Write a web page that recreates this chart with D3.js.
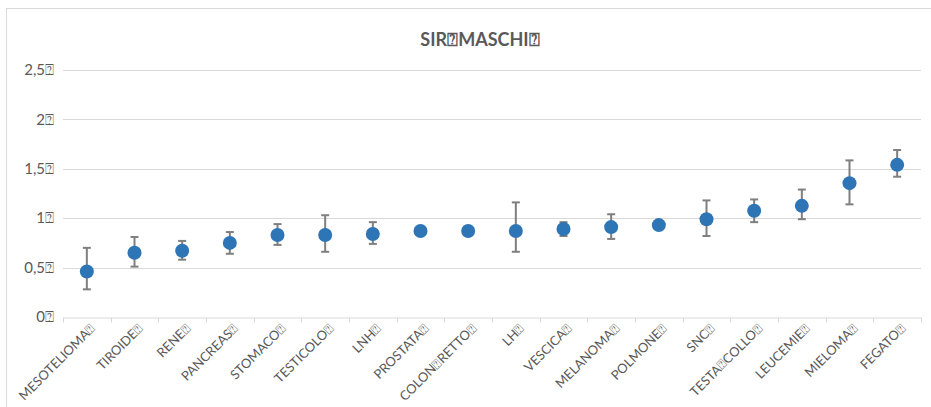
<!DOCTYPE html>
<html>
<head>
<meta charset="utf-8">
<script src="https://cdn.jsdelivr.net/npm/d3@7"></script>
<style>
    html, body { margin: 0; padding: 0; background: #fff; }
    svg { display: block; }
    text { font-family: Lato, "Open Sans", sans-serif; fill: #595959; }
</style>
</head>
<body>
<svg id="chart" width="931" height="407"></svg>
<script>
// 缺字方框
const BOX = "\u2370";

// 类别
const categories = ["MESOTELIOMA", "TIROIDE", "RENE", "PANCREAS", "STOMACO", "TESTICOLO", "LNH", "PROSTATA",
    "COLON" + BOX + "RETTO", "LH", "VESCICA", "MELANOMA", "POLMONE", "SNC", "TESTA" + BOX + "COLLO",
    "LEUCEMIE", "MIELOMA", "FEGATO"];

// SIR 值
const sirValues = [0.46, 0.65, 0.67, 0.75, 0.83, 0.83, 0.84, 0.87, 0.87, 0.87, 0.89, 0.91, 0.93, 0.99, 1.075, 1.125, 1.355, 1.54];

// 置信区间下限 / 上限
const lowerValues = [0.28, 0.51, 0.58, 0.64, 0.73, 0.66, 0.74, 0.85, 0.85, 0.66, 0.82, 0.79, 0.91, 0.82, 0.96, 0.99, 1.14, 1.42];
const upperValues = [0.70, 0.81, 0.77, 0.86, 0.94, 1.03, 0.96, 0.89, 0.89, 1.16, 0.96, 1.04, 0.95, 1.18, 1.19, 1.29, 1.585, 1.69];

// y 轴刻度
const yTicks = [0, 0.5, 1, 1.5, 2, 2.5];
const yTickLabels = ["0", "0,5", "1", "1,5", "2", "2,5"];

// 参考线
const refValue = 1;

const title = "SIR" + BOX + "MASCHI" + BOX;

const svg = d3.select("#chart");
const margin = {top: 70, right: 10, bottom: 90, left: 63};
const width = 921 - margin.left;
const height = 317 - margin.top;

// 图表外框
svg.append("rect")
    .attr("x", 6.5).attr("y", 8.5)
    .attr("width", 940).attr("height", 420)
    .attr("fill", "none").attr("stroke", "#d9d9d9");

// 标题
svg.append("text")
    .attr("x", 480).attr("y", 46)
    .attr("text-anchor", "middle")
    .style("font-size", "18px").style("font-weight", "bold")
    .text(title);

const g = svg.append("g").attr("transform", `translate(${margin.left},${margin.top})`);

const x = d3.scaleBand().domain(categories).range([0, width]);
const y = d3.scaleLinear().domain([0, 2.5]).range([height, 0]);

// 网格线
g.append("g")
    .selectAll("line")
    .data(yTicks.slice(1))
    .enter().append("line")
    .attr("x1", 0).attr("x2", width)
    .attr("y1", d => Math.round(y(d)) + 0.5).attr("y2", d => Math.round(y(d)) + 0.5)
    .attr("stroke", "#d9d9d9");

// y 轴文字
g.append("g")
    .selectAll("text")
    .data(yTicks)
    .enter().append("text")
    .attr("x", -9).attr("y", d => y(d))
    .attr("dy", "0.35em")
    .attr("text-anchor", "end")
    .style("font-size", "15px")
    .text((d, i) => yTickLabels[i] + BOX);

// x 轴
const axisX = g.append("g")
    .attr("transform", `translate(0,${height + 0.5})`)
    .call(d3.axisBottom(x).tickSize(0).tickFormat(""));
axisX.select(".domain").attr("stroke", "#d9d9d9");
axisX.selectAll(".tick").remove();

// x 轴刻度线 (类别边界)
axisX.append("g")
    .selectAll("line")
    .data(d3.range(categories.length + 1))
    .enter().append("line")
    .attr("x1", i => Math.round(i * x.step()) + 0.5)
    .attr("x2", i => Math.round(i * x.step()) + 0.5)
    .attr("y1", 0).attr("y2", 5)
    .attr("stroke", "#d9d9d9");

// x 轴文字
g.append("g")
    .selectAll("text")
    .data(categories)
    .enter().append("text")
    .attr("transform", d => `translate(${x(d) + x.bandwidth() / 2 + 6},${height + 9}) rotate(-45)`)
    .attr("dy", "0.35em")
    .attr("text-anchor", "end")
    .style("font-size", "13px")
    .text(d => d + BOX);

// 参考线阴影
const defs = svg.append("defs");
const shadow = defs.append("filter").attr("id", "shadow")
    .attr("x", "-5%").attr("y", "-300%").attr("width", "110%").attr("height", "700%");
shadow.append("feGaussianBlur").attr("in", "SourceAlpha").attr("stdDeviation", 2.5);
shadow.append("feOffset").attr("dy", 4).attr("result", "b");
shadow.append("feComponentTransfer").append("feFuncA").attr("type", "linear").attr("slope", 0.4);
const merge = shadow.append("feMerge");
merge.append("feMergeNode");
merge.append("feMergeNode").attr("in", "SourceGraphic");

g.append("line")
    .attr("x1", 0).attr("x2", width)
    .attr("y1", y(refValue)).attr("y2", y(refValue))
    .attr("stroke", "#4472c4").attr("stroke-width", 2)
    .attr("filter", "url(#shadow)");

// 误差线
const errors = g.append("g").attr("stroke", "#7f7f7f").attr("stroke-width", 2);
categories.forEach((c, i) => {
    const cx = x(c) + x.bandwidth() / 2;
    errors.append("line")
        .attr("x1", cx).attr("x2", cx)
        .attr("y1", y(lowerValues[i])).attr("y2", y(upperValues[i]));
    [lowerValues[i], upperValues[i]].forEach(v => {
        errors.append("line")
            .attr("x1", cx - 4).attr("x2", cx + 4)
            .attr("y1", y(v)).attr("y2", y(v));
    });
});

// 数据点
g.append("g")
    .selectAll("circle")
    .data(sirValues)
    .enter().append("circle")
    .attr("cx", (d, i) => x(categories[i]) + x.bandwidth() / 2)
    .attr("cy", d => y(d))
    .attr("r", 7)
    .attr("fill", "#2e75b6");
</script>
</body>
</html>
